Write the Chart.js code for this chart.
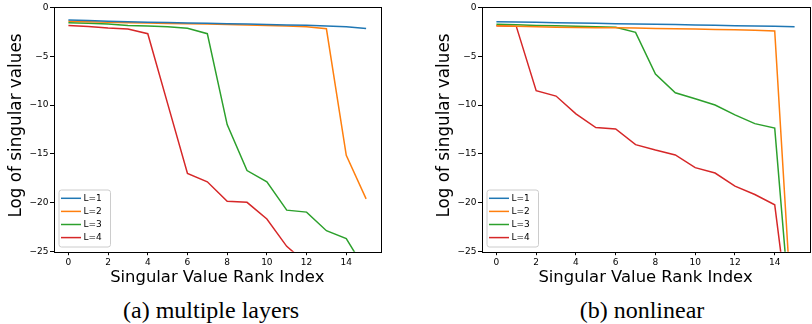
<!DOCTYPE html>
<html>
<head>
<meta charset="utf-8">
<script src="https://cdn.jsdelivr.net/npm/chart.js@4.4.1/dist/chart.umd.min.js"></script>
<style>
  body { margin: 0; width: 812px; height: 324px; background: #fff; position: relative; overflow: hidden; }
  .panel { position: absolute; top: 0; }
  .caption {
    position: absolute; top: 298px; width: 240px; text-align: center;
    font-family: 'Liberation Serif', 'Times New Roman', serif; font-size: 24px; line-height: 24px; color: #000;
  }
</style>
</head>
<body>
<div class="panel" style="left:0"><canvas id="chartA" width="406" height="290"></canvas></div>
<div class="panel" style="left:406px"><canvas id="chartB" width="406" height="290"></canvas></div>
<div class="caption" style="left:91px">(a) multiple layers</div>
<div class="caption" style="left:522px">(b) nonlinear</div>

<script>
// x axis: singular value rank index
const rank = [0, 1, 2, 3, 4, 5, 6, 7, 8, 9, 10, 11, 12, 13, 14, 15];
const xTicks = [0, 2, 4, 6, 8, 10, 12, 14];
const yTicks = [0, -5, -10, -15, -20, -25];
const seriesNames = ['L=1', 'L=2', 'L=3', 'L=4'];
const seriesColors = ['#1f77b4', '#ff7f0e', '#2ca02c', '#d62728'];

// (a) multiple layers
const aL1 = [-1.3, -1.36, -1.42, -1.47, -1.52, -1.56, -1.6, -1.64, -1.68, -1.72, -1.76, -1.8, -1.84, -1.91, -1.98, -2.18];
const aL2 = [-1.43, -1.48, -1.53, -1.57, -1.61, -1.65, -1.68, -1.72, -1.76, -1.8, -1.86, -1.92, -1.98, -2.2, -15.15, -19.6];
const aL3 = [-1.57, -1.64, -1.72, -1.85, -1.92, -2.0, -2.15, -2.7, -12.0, -16.7, -17.85, -20.75, -20.95, -22.85, -23.65, -27.0];
const aL4 = [-1.85, -1.97, -2.12, -2.22, -2.7, -9.85, -17.0, -17.85, -19.85, -19.95, -21.65, -24.45, -26.2, -27.5, -28.5, -30.0];

// (b) nonlinear
const bL1 = [-1.47, -1.5, -1.54, -1.58, -1.61, -1.64, -1.67, -1.7, -1.73, -1.76, -1.8, -1.84, -1.88, -1.92, -1.95, -1.98];
const bL2 = [-1.9, -1.95, -2.0, -2.03, -2.06, -2.08, -2.1, -2.13, -2.16, -2.19, -2.22, -2.26, -2.3, -2.34, -2.42, -36.1];
const bL3 = [-1.74, -1.78, -1.85, -1.9, -1.95, -2.0, -2.05, -2.56, -6.83, -8.74, -9.35, -10.0, -11.0, -11.9, -12.35, -36.7];
const bL4 = [-1.88, -1.95, -8.53, -9.08, -10.9, -12.3, -12.45, -14.05, -14.6, -15.1, -16.4, -16.95, -18.3, -19.15, -20.2, -36.2];

const fontFamily = "'DejaVu Sans', sans-serif";
const yTitle = 'Log of singular values';

// box around the plot, y title, and legend in lower left corner
const frameAndLegend = {
  id: 'frameAndLegend',
  afterDatasetsDraw(chart) {
    const { ctx, chartArea: a } = chart;
    ctx.save();
    ctx.strokeStyle = '#000';
    ctx.lineWidth = 1;
    const l = Math.round(a.left) + 0.5, t = Math.round(a.top) + 0.5;
    const r = Math.round(a.right) + 0.5, b = Math.round(a.bottom) + 0.5;
    ctx.strokeRect(l, t, r - l, b - t);

    // y axis title (matplotlib puts it a bit above the axis middle here)
    ctx.save();
    ctx.translate(a.left - 37, (a.top + a.bottom) / 2 - 4);
    ctx.rotate(-Math.PI / 2);
    ctx.font = '16.8px ' + fontFamily;
    ctx.fillStyle = '#000';
    ctx.textAlign = 'center';
    ctx.textBaseline = 'middle';
    ctx.fillText(yTitle, 0, 0);
    ctx.restore();

    const bx = a.left + 5.5, bw = 51.5, bh = 57;
    const by = a.bottom - 4.7 - bh;
    ctx.beginPath();
    ctx.roundRect(bx, by, bw, bh, 2.5);
    ctx.fillStyle = 'rgba(255,255,255,0.8)';
    ctx.fill();
    ctx.strokeStyle = '#cccccc';
    ctx.stroke();

    ctx.font = '9px ' + fontFamily;
    ctx.textBaseline = 'middle';
    ctx.textAlign = 'left';
    chart.data.datasets.forEach((ds, i) => {
      const y = by + 8.3 + i * 13.1;
      ctx.beginPath();
      ctx.moveTo(bx + 2, y);
      ctx.lineTo(bx + 22, y);
      ctx.strokeStyle = ds.borderColor;
      ctx.lineWidth = 1.5;
      ctx.stroke();
      ctx.fillStyle = '#000';
      ctx.fillText(ds.label, bx + 24.5, y + 0.5);
    });
    ctx.restore();
  }
};

function makeChart(id, series, padLeft, padRight) {
  const datasets = series.map((vals, i) => ({
    label: seriesNames[i],
    data: vals.map((v, k) => ({ x: rank[k], y: v })),
    borderColor: seriesColors[i],
    backgroundColor: seriesColors[i],
    borderWidth: 1.5,
    pointRadius: 0,
    tension: 0,
    fill: false,
  }));

  return new Chart(document.getElementById(id), {
    type: 'line',
    data: { datasets },
    plugins: [frameAndLegend],
    options: {
      responsive: false,
      animation: false,
      devicePixelRatio: 1,
      layout: { padding: { left: padLeft, right: padRight, top: 7.3, bottom: 0 } },
      plugins: { legend: { display: false }, tooltip: { enabled: false } },
      scales: {
        x: {
          type: 'linear',
          min: -0.75,
          max: 15.75,
          afterBuildTicks: (s) => { s.ticks = xTicks.map(v => ({ value: v })); },
          afterFit: (s) => { s.height = 38.3; },
          border: { display: false },
          grid: { drawOnChartArea: false, drawTicks: true, tickLength: 3.5, tickColor: '#000', tickWidth: 1 },
          ticks: { color: '#000', font: { family: fontFamily, size: 9 }, padding: 2, maxRotation: 0 },
          title: { display: true, text: 'Singular Value Rank Index', color: '#000',
                   font: { family: fontFamily, size: 16.4 }, padding: { top: 0, bottom: 2.6 } },
        },
        y: {
          min: -25,
          max: 0,
          afterBuildTicks: (s) => { s.ticks = yTicks.map(v => ({ value: v })); },
          afterFit: (s) => { s.width = 53.5; },
          border: { display: false },
          grid: { drawOnChartArea: false, drawTicks: true, tickLength: 3.5, tickColor: '#000', tickWidth: 1 },
          ticks: {
            color: '#000', font: { family: fontFamily, size: 9 }, padding: 1.5,
            callback: (v) => (v < 0 ? '\u2212' + Math.abs(v) : String(v)),
          },
          title: { display: false },
        },
      },
    },
  });
}

makeChart('chartA', [aL1, aL2, aL3, aL4], 0, 25);
makeChart('chartB', [bL1, bL2, bL3, bL4], 22, 2.5);
</script>
</body>
</html>
